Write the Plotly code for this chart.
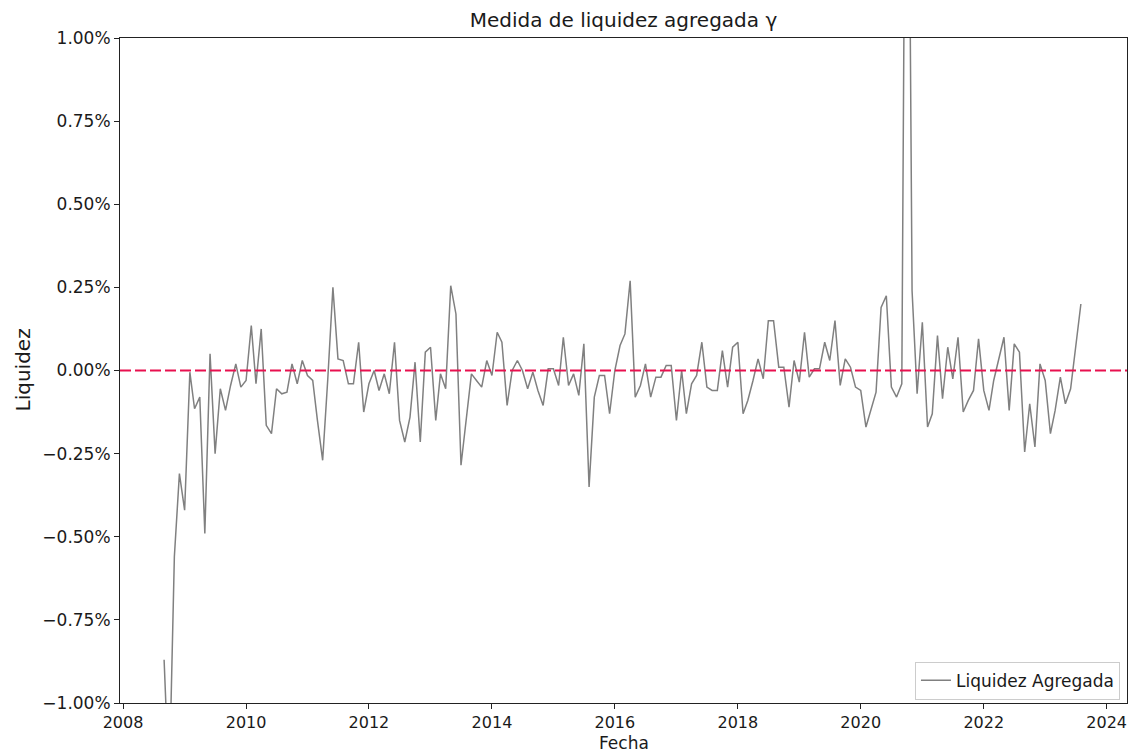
import pandas as pd
import plotly.graph_objects as go

# Monthly aggregate liquidity measure (in percent), Sep 2008 - Aug 2023
start_month = "2008-09-01"
liq_2008 = [-0.87, -1.25, -0.56, -0.31]
liq_2009 = [-0.42, -0.005, -0.115, -0.08, -0.49, 0.05, -0.25, -0.055, -0.12, -0.045, 0.02, -0.05]
liq_2010 = [-0.03, 0.135, -0.04, 0.125, -0.165, -0.19, -0.055, -0.07, -0.065, 0.02, -0.04, 0.03]
liq_2011 = [-0.015, -0.03, -0.15, -0.27, -0.03, 0.25, 0.035, 0.03, -0.04, -0.04, 0.085, -0.125]
liq_2012 = [-0.04, 0.0, -0.06, -0.01, -0.07, 0.085, -0.15, -0.215, -0.14, 0.025, -0.215, 0.055]
liq_2013 = [0.07, -0.15, -0.01, -0.055, 0.255, 0.17, -0.285, -0.14, -0.01, -0.03, -0.05, 0.03]
liq_2014 = [-0.015, 0.115, 0.085, -0.105, 0.0, 0.03, 0.0, -0.055, -0.005, -0.06, -0.105, 0.005]
liq_2015 = [0.005, -0.045, 0.1, -0.045, -0.01, -0.075, 0.08, -0.35, -0.08, -0.015, -0.015, -0.13]
liq_2016 = [0.0, 0.075, 0.11, 0.27, -0.08, -0.045, 0.02, -0.08, -0.02, -0.02, 0.015, 0.015]
liq_2017 = [-0.15, 0.0, -0.13, -0.04, -0.015, 0.085, -0.05, -0.06, -0.06, 0.06, -0.05, 0.07]
liq_2018 = [0.085, -0.13, -0.09, -0.03, 0.035, -0.025, 0.15, 0.15, 0.01, 0.01, -0.11, 0.03]
liq_2019 = [-0.035, 0.115, -0.02, 0.005, 0.005, 0.085, 0.03, 0.15, -0.045, 0.035, 0.01, -0.05]
liq_2020 = [-0.06, -0.17, -0.12, -0.065, 0.19, 0.225, -0.05, -0.08, -0.04, 2.5, 0.24, -0.07]
liq_2021 = [0.145, -0.17, -0.13, 0.105, -0.085, 0.07, -0.025, 0.1, -0.125, -0.09, -0.06, 0.095]
liq_2022 = [-0.06, -0.12, -0.03, 0.04, 0.1, -0.12, 0.08, 0.055, -0.245, -0.1, -0.23, 0.02]
liq_2023 = [-0.03, -0.19, -0.12, -0.02, -0.1, -0.055, 0.07, 0.2]

liquidez = (liq_2008 + liq_2009 + liq_2010 + liq_2011 + liq_2012 + liq_2013
            + liq_2014 + liq_2015 + liq_2016 + liq_2017 + liq_2018 + liq_2019
            + liq_2020 + liq_2021 + liq_2022 + liq_2023)
fechas = pd.date_range(start_month, periods=len(liquidez), freq="MS")

y_ticks = [-1.0, -0.75, -0.5, -0.25, 0.0, 0.25, 0.5, 0.75, 1.0]
y_tick_text = [("\u2212" if v < 0 else "") + f"{abs(v):.2f}%" for v in y_ticks]

FONT = "DejaVu Sans"
INK = "#1a1a1a"

fig = go.Figure()
fig.add_trace(go.Scatter(
    x=fechas, y=liquidez, mode="lines", name="Liquidez Agregada",
    line=dict(color="#808080", width=1.5),
))

# zero reference line
fig.add_shape(type="line", xref="paper", x0=0, x1=1, yref="y", y0=0, y1=0,
              line=dict(color="#e8104f", width=2, dash="11px,4px"))

fig.update_layout(
    width=1131, height=754,
    margin=dict(l=120, r=4, t=38, b=51),
    paper_bgcolor="white", plot_bgcolor="white",
    font=dict(family=FONT, size=17, color=INK),
    title=dict(text="Medida de liquidez agregada \u03b3", x=0.5, xref="paper",
               xanchor="center", y=1 - 20 / 754, yref="container", yanchor="middle",
               font=dict(family=FONT, size=20, color=INK)),
    showlegend=True,
    legend=dict(x=0.993, y=0.005, xanchor="right", yanchor="bottom",
                bgcolor="rgba(255,255,255,0.8)", bordercolor="#cccccc", borderwidth=1,
                font=dict(family=FONT, size=17, color=INK)),
    xaxis=dict(
        type="date", range=["2007-12-14", "2024-05-01"],
        tick0="2008-01-01", dtick="M24", tickformat="%Y",
        ticks="outside", ticklen=5, tickcolor="#222", tickwidth=1,
        showline=True, linecolor="#222", linewidth=1, mirror=True,
        showgrid=False, zeroline=False,
        tickfont=dict(family=FONT, size=16, color=INK),
    ),
    yaxis=dict(
        range=[-1.0, 1.0], tickvals=y_ticks, ticktext=y_tick_text,
        ticks="outside", ticklen=5, tickcolor="#222", tickwidth=1,
        showline=True, linecolor="#222", linewidth=1, mirror=True,
        showgrid=False, zeroline=False,
        tickfont=dict(family=FONT, size=17, color=INK),
    ),
    annotations=[
        dict(text="Fecha", xref="paper", x=0.5, yref="paper", y=-51 / 665,
             yanchor="bottom", xanchor="center", showarrow=False, borderpad=0,
             font=dict(family=FONT, size=17, color=INK)),
        dict(text="Liquidez", xref="paper", x=-98 / 1007, yref="paper", y=0.5,
             xanchor="center", yanchor="middle", textangle=-90, showarrow=False,
             font=dict(family=FONT, size=20, color=INK)),
    ],
)

fig.write_html("out.html")
